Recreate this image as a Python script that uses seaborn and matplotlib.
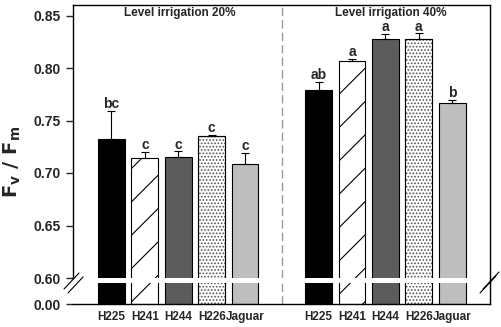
import numpy as np
import pandas as pd
import matplotlib
matplotlib.use("Agg")
import matplotlib.pyplot as plt
from matplotlib.lines import Line2D
import seaborn as sns

sns.set_style("ticks")
plt.rcParams['font.family'] = ['Liberation Sans', 'DejaVu Sans']
plt.rcParams['font.weight'] = 'bold'
plt.rcParams['hatch.linewidth'] = 0.8

# dados
cultivars = ['H225', 'H241', 'H244', 'H226', 'Jaguar']
fvfm_20 = [0.732, 0.7145, 0.7155, 0.735, 0.709]
err_20 = [0.027, 0.0055, 0.005, 0.0012, 0.0098]
letters_20 = ['bc', 'c', 'c', 'c', 'c']
fvfm_40 = [0.779, 0.8065, 0.828, 0.828, 0.767]
err_40 = [0.0076, 0.002, 0.0045, 0.005, 0.003]
letters_40 = ['ab', 'a', 'a', 'a', 'b']
group_titles = ['Level irrigation 20%', 'Level irrigation 40%']

colors = {'H225': '#000000', 'H241': '#ffffff', 'H244': '#5c5c5c',
          'H226': '#ffffff', 'Jaguar': '#bebebe'}
hatches = {'H225': '', 'H241': '/', 'H244': '', 'H226': '.....', 'Jaguar': ''}

pos = list(np.arange(5.0)) + list(np.arange(5.0) + 6.2)
df = pd.DataFrame({'pos': pos,
                   'fvfm': fvfm_20 + fvfm_40,
                   'err': err_20 + err_40,
                   'letter': letters_20 + letters_40,
                   'cultivar': cultivars * 2})

fig = plt.figure(figsize=(5.01, 3.27), dpi=100)
W, H = 501, 327
ax_top = fig.add_axes([73 / W, 1 - 278 / H, (490 - 73) / W, (278 - 5) / H])
ax_bot = fig.add_axes([73 / W, 1 - 304 / H, (490 - 73) / W, (304 - 283) / H])

for ax in (ax_top, ax_bot):
    sns.barplot(data=df, x='pos', y='fvfm', hue='cultivar', palette=colors,
                native_scale=True, dodge=False, width=0.8, errorbar=None,
                edgecolor='black', linewidth=0.8, legend=False, ax=ax)
    for p in ax.patches:
        xc = p.get_x() + p.get_width() / 2
        cv = df.loc[(df['pos'] - xc).abs().idxmin(), 'cultivar']
        p.set_hatch(hatches[cv])
        if cv == 'H226':
            p.set_edgecolor('#555555')
    ax.axvline(5.1, color='#999999', linestyle=(0, (6, 3)), linewidth=1)
    ax.set_xlim(-1.15, 11.33)
    ax.set_xlabel('')
    ax.set_ylabel('')
    for s in ax.spines.values():
        s.set_linewidth(1)
        s.set_color('black')

# bordas pretas no H226 por cima do pontilhado
for ax in (ax_top, ax_bot):
    for x, v, c in zip(df['pos'], df['fvfm'], df['cultivar']):
        if c == 'H226':
            ax.add_patch(plt.Rectangle((x - 0.4, 0), 0.8, v, fill=False,
                                       edgecolor='black', linewidth=0.8))

ax_top.errorbar(df['pos'], df['fvfm'], yerr=[np.zeros(len(df)), df['err']],
                fmt='none', ecolor='black', elinewidth=0.8, capsize=3, capthick=0.8)
for x, v, e, l in zip(df['pos'], df['fvfm'], df['err'], df['letter']):
    ax_top.annotate(l, (x, v + e), xytext=(0, 2), textcoords='offset points',
                    ha='center', va='baseline', fontsize=10, fontweight='bold')

ax_top.set_ylim(0.6, 0.86)
ax_top.set_yticks([0.60, 0.65, 0.70, 0.75, 0.80, 0.85])
ax_top.set_yticklabels(['0.60', '0.65', '0.70', '0.75', '0.80', '0.85'])
ax_top.tick_params(axis='y', length=5, width=1, labelsize=10)
ax_top.tick_params(axis='x', bottom=False, labelbottom=False)
ax_top.spines['bottom'].set_visible(False)

ax_top.text(2.05, 0.8497, group_titles[0], ha='center', va='baseline', fontsize=8.5, fontweight='bold')
ax_top.text(8.35, 0.8497, group_titles[1], ha='center', va='baseline', fontsize=8.5, fontweight='bold')

ax_bot.set_ylim(0, 0.1)
ax_bot.set_yticks([0])
ax_bot.set_yticklabels(['0.00'])
ax_bot.tick_params(axis='y', length=5, width=1, labelsize=10)
ax_bot.set_xticks(df['pos'])
ax_bot.set_xticklabels(df['cultivar'], fontsize=8.5, fontweight='bold')
ax_bot.tick_params(axis='x', length=0, pad=5)
ax_bot.spines['top'].set_visible(False)
ax_bot.spines['left'].set_visible(False)

fig.text(12 / W, 1 - 162 / H, r'$\mathbf{F_v\ /\ F_m}$', rotation=90,
         ha='center', va='center', fontsize=14)

# marcas de quebra do eixo
def brk(x0, y0, x1, y1):
    fig.add_artist(Line2D([x0 / W, x1 / W], [1 - y0 / H, 1 - y1 / H],
                          transform=fig.transFigure, color='black', linewidth=0.8))

brk(64, 289, 79, 273)
brk(68, 293, 83, 277)
brk(480, 293, 496, 276)
brk(483, 289, 499, 272)
fig.add_artist(Line2D([490 / W, 490 / W], [1 - 278 / H, 1 - 283 / H],
                      transform=fig.transFigure, color='black', linewidth=1))

fig.savefig('out.png', dpi=100)
